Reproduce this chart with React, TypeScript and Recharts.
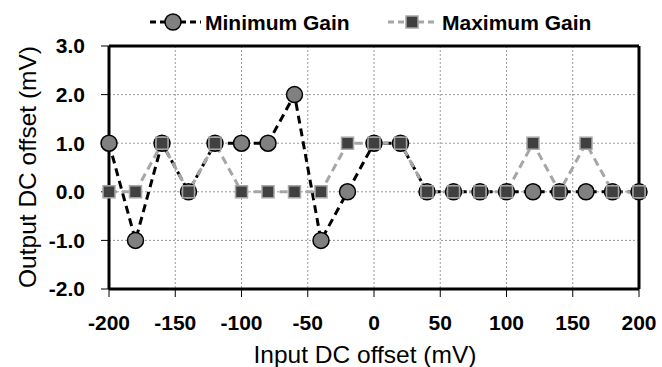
import { LineChart, Line, XAxis, YAxis, CartesianGrid, ReferenceLine } from 'recharts';

const inputOffset = [-200, -180, -160, -140, -120, -100, -80, -60, -40, -20, 0, 20, 40, 60, 80, 100, 120, 140, 160, 180, 200];
const minimumGain = [1, -1, 1, 0, 1, 1, 1, 2, -1, 0, 1, 1, 0, 0, 0, 0, 0, 0, 0, 0, 0];
const maximumGain = [0, 0, 1, 0, 1, 0, 0, 0, 0, 1, 1, 1, 0, 0, 0, 0, 1, 0, 1, 0, 0];
const xTicks = [-200, -150, -100, -50, 0, 50, 100, 150, 200];
const yTicks = [-2, -1, 0, 1, 2, 3];

const data = inputOffset.map((x, i) => ({ x, min: minimumGain[i], max: maximumGain[i] }));

const font = "'Liberation Sans', Arial, sans-serif";

const CircleDot = (props: any) => {
  const { cx, cy, index } = props;
  if (cx == null || cy == null) return null;
  return <circle key={`c-${index}`} cx={cx} cy={cy} r={8} fill="#808080" stroke="#000" strokeWidth={1.5} />;
};

const SquareDot = (props: any) => {
  const { cx, cy, index } = props;
  if (cx == null || cy == null) return null;
  return <rect key={`s-${index}`} x={cx - 6} y={cy - 6} width={12} height={12} fill="#404040" stroke="#a6a6a6" strokeWidth={1.5} />;
};

// legend drawn by hand, on top of the chart
const ChartLegend = () => (
  <svg width={662} height={40} style={{ position: 'absolute', left: 0, top: 0 }}>
    <g fontFamily={font} fontWeight="bold" fontSize={21} fill="#000">
      <line x1={150} y1={22} x2={201} y2={22} stroke="#000" strokeWidth={3} strokeDasharray="6 4" />
      <circle cx={173} cy={22} r={8} fill="#808080" stroke="#000" strokeWidth={1.5} />
      <text x={205} y={29.5}>Minimum Gain</text>
      <line x1={388} y1={22} x2={438} y2={22} stroke="#a6a6a6" strokeWidth={3} strokeDasharray="6 4" />
      <rect x={406} y={16} width={12} height={12} fill="#404040" stroke="#a6a6a6" strokeWidth={1.5} />
      <text x={442} y={29.5}>Maximum Gain</text>
    </g>
  </svg>
);

const YTitle = () => (
  <text x={27} y={167} transform="rotate(-90 27 167)" textAnchor="middle" dominantBaseline="central" fontFamily={font} fontSize={24.5} fill="#000">
    Output DC offset (mV)
  </text>
);

export default function App() {
  return (
    <div style={{ position: 'fixed', left: 0, top: 0, width: 662, height: 367, background: '#fff' }}>
      <LineChart width={662} height={367} data={data} margin={{ top: 46, right: 23, left: 0, bottom: 0 }}>
        <CartesianGrid stroke="#9a9a9a" strokeDasharray="2 2" verticalValues={xTicks} horizontalValues={yTicks} />
        <XAxis
          dataKey="x"
          type="number"
          domain={[-200, 200]}
          ticks={xTicks}
          height={78}
          stroke="#000"
          axisLine={{ strokeWidth: 3 }}
          tickSize={8}
          tickMargin={18}
          tick={{ fill: '#000', fontSize: 21, fontWeight: 'bold', fontFamily: font }}
          label={{ value: 'Input DC offset (mV)', position: 'insideBottom', offset: 4, dx: -9, fill: '#000', fontSize: 24.5, fontFamily: font }}
        />
        <YAxis
          type="number"
          domain={[-2, 3]}
          ticks={yTicks}
          width={109}
          stroke="#000"
          axisLine={{ strokeWidth: 3 }}
          tickSize={8}
          tickMargin={16}
          tickFormatter={(v: number) => v.toFixed(1)}
          tick={{ fill: '#000', fontSize: 21, fontWeight: 'bold', fontFamily: font }}
          label={{ content: YTitle }}
        />
        <ReferenceLine y={3} stroke="#000" strokeWidth={3} />
        <ReferenceLine x={200} stroke="#000" strokeWidth={3} />
        <Line dataKey="min" stroke="#000" strokeWidth={3} strokeDasharray="8 5" dot={CircleDot} isAnimationActive={false} />
        <Line dataKey="max" stroke="#a6a6a6" strokeWidth={3} strokeDasharray="8 5" dot={SquareDot} isAnimationActive={false} />
      </LineChart>
      <ChartLegend />
    </div>
  );
}
